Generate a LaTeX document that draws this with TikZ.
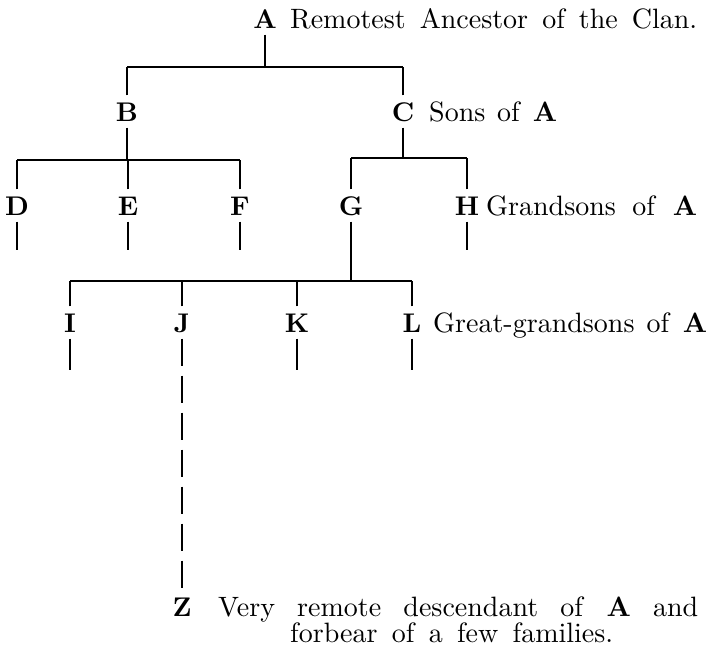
\documentclass[tikz,border=0pt]{standalone}
\usepackage{fontspec}
\setmainfont{lmroman10}[Extension=.otf, UprightFont=*-regular, BoldFont=*-bold, ItalicFont=*-italic, BoldItalicFont=*-bolditalic]
\begin{document}
\begin{tikzpicture}[x=1pt,y=-1pt,
  letter/.style={font=\fontsize{27}{32}\selectfont\bfseries, inner xsep=0pt, inner ysep=6.5pt, text height=19pt, text depth=0pt, anchor=base},
  lbl/.style={font=\fontsize{28}{32}\selectfont, inner sep=0pt, anchor=base west},
  tree/.style={line width=1.5pt},
  dashtree/.style={line width=1.5pt, dash pattern=on 27pt off 10pt},
  ]
\useasboundingbox (0,0) rectangle (708,648);
% letters
\node[letter] (A) at (265,28) {A};
\node[letter] (B) at (127,121) {B};
\node[letter] (C) at (403,121) {C};
\node[letter] (D) at (17,215) {D};
\node[letter] (E) at (128,215) {E};
\node[letter] (F) at (240,215) {F};
\node[letter] (G) at (351,215) {G};
\node[letter] (H) at (467,215) {H};
\node[letter] (I) at (70,332) {I};
\node[letter] (J) at (182,332) {J};
\node[letter] (K) at (297,332) {K};
\node[letter] (L) at (412,332) {L};
\node[letter] (Z) at (182,616) {Z};
% labels
\node[lbl] (tA) at (290,28) {\makebox[407pt][s]{Remotest Ancestor of the Clan.}};
\node[lbl] (tC) at (429,121) {\makebox[128pt][s]{Sons of \textbf{A}}};
\node[lbl] (tH) at (486,215) {\makebox[211pt][s]{Grandsons of \textbf{A}}};
\node[lbl] (tL) at (433,332) {\makebox[274pt][s]{Great-grandsons of \textbf{A}}};
\node[lbl] (tZ) at (218,616) {\makebox[480pt][s]{Very remote descendant of \textbf{A} and}};
\node[lbl] (tZ2) at (290,642) {\makebox[323pt][s]{forbear of a few families.}};
% bar levels
\coordinate (b1) at (0,67);
\coordinate (b2) at (0,160);
\coordinate (b3) at (0,158);
\coordinate (b4) at (0,281);
\coordinate (s2) at (0,250);
\coordinate (s3) at (0,370);
% A -> B, C
\draw[tree] (A.south) -- (A.south |- b1);
\draw[tree] (B.north |- b1) -- (C.north |- b1);
\draw[tree] (B.north) -- (B.north |- b1);
\draw[tree] (C.north) -- (C.north |- b1);
% B -> D, E, F
\draw[tree] (B.south) -- (B.south |- b2);
\draw[tree] (D.north |- b2) -- (F.north |- b2);
\draw[tree] (D.north) -- (D.north |- b2);
\draw[tree] (E.north) -- (E.north |- b2);
\draw[tree] (F.north) -- (F.north |- b2);
% C -> G, H
\draw[tree] (C.south) -- (C.south |- b3);
\draw[tree] (G.north |- b3) -- (H.north |- b3);
\draw[tree] (G.north) -- (G.north |- b3);
\draw[tree] (H.north) -- (H.north |- b3);
% G -> I, J, K, L
\draw[tree] (G.south) -- (G.south |- b4);
\draw[tree] (I.north |- b4) -- (L.north |- b4);
\draw[tree] (I.north) -- (I.north |- b4);
\draw[tree] (J.north) -- (J.north |- b4);
\draw[tree] (K.north) -- (K.north |- b4);
\draw[tree] (L.north) -- (L.north |- b4);
% stubs
\draw[tree] (D.south) -- (D.south |- s2);
\draw[tree] (E.south) -- (E.south |- s2);
\draw[tree] (F.south) -- (F.south |- s2);
\draw[tree] (H.south) -- (H.south |- s2);
\draw[tree] (I.south) -- (I.south |- s3);
\draw[tree] (K.south) -- (K.south |- s3);
\draw[tree] (L.south) -- (L.south |- s3);
% J -> Z
\draw[dashtree] (J.south) -- (Z.north);
\end{tikzpicture}
\end{document}
